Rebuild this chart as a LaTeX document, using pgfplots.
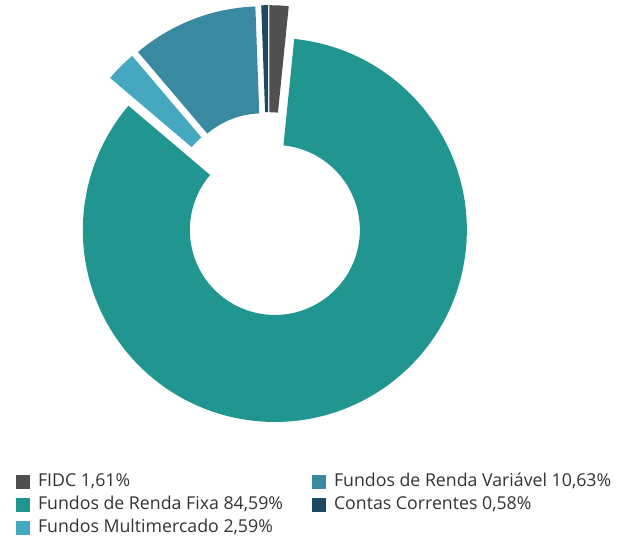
\documentclass[border=0pt]{standalone}
\usepackage{fontspec}
\setmainfont{Open Sans}
\usepackage{pgfplots}
\pgfplotsset{compat=1.18}
\definecolor{cFIDC}{RGB}{80,80,80}
\definecolor{cFixa}{RGB}{33,150,145}
\definecolor{cMulti}{RGB}{70,168,192}
\definecolor{cVar}{RGB}{57,137,160}
\definecolor{cCont}{RGB}{29,74,98}
\definecolor{txt}{RGB}{51,51,51}
\begin{document}
\begin{tikzpicture}
\begin{axis}[
  scale only axis, width=633bp, height=535bp,
  xmin=0, xmax=633, ymin=0, ymax=535,
  hide axis, clip=false,
  legend columns=2,
  legend cell align=left,
  legend image code/.code={\fill[#1] (0bp,-6.5bp) rectangle (14bp,6.5bp);},
  legend style={at={(axis cs:16,61)}, anchor=north west, draw=none, fill=none,
     inner sep=0pt, outer sep=0pt,
     font=\fontsize{17.8}{20}\selectfont, text=txt, row sep=7bp,
     /tikz/every odd column/.append style={column sep=8bp},
     /tikz/every even column/.append style={column sep=29bp},
     nodes={inner sep=0pt, text height=12bp, text depth=4bp}},
]
\path (axis cs:0,0) rectangle (axis cs:633,535);
\addlegendimage{fill=cFIDC, draw=none}
\addlegendentry{FIDC 1,61\%}
\addlegendimage{fill=cVar, draw=none}
\addlegendentry{Fundos de Renda Variável 10,63\%}
\addlegendimage{fill=cFixa, draw=none}
\addlegendentry{Fundos de Renda Fixa 84,59\%}
\addlegendimage{fill=cCont, draw=none}
\addlegendentry{Contas Correntes 0,58\%}
\addlegendimage{fill=cMulti, draw=none}
\addlegendentry{Fundos Multimercado 2,59\%}
\pgfplotsextra{
  \foreach \v/\c [remember=\cnext as \cprev (initially 0)] in
     {1.61/cFIDC, 84.59/cFixa, 2.59/cMulti, 10.63/cVar, 0.58/cCont} {
    \pgfmathsetmacro\cnext{\cprev+\v}
    \pgfmathsetmacro\aS{90-3.6*\cprev}
    \pgfmathsetmacro\aE{90-3.6*\cnext}
    \pgfmathsetmacro\aM{(\aS+\aE)/2}
    \pgfmathsetmacro\cx{268.5+17*cos(\aM)}
    \pgfmathsetmacro\cy{320.8+17*sin(\aM)}
    \fill[\c, shift={(axis cs:\cx,\cy)}] (\aS:85bp) -- (\aS:192bp)
      arc[start angle=\aS, end angle=\aE, radius=192bp] -- (\aE:85bp)
      arc[start angle=\aE, end angle=\aS, radius=85bp] -- cycle;
  }
}
\end{axis}
\end{tikzpicture}
\end{document}
